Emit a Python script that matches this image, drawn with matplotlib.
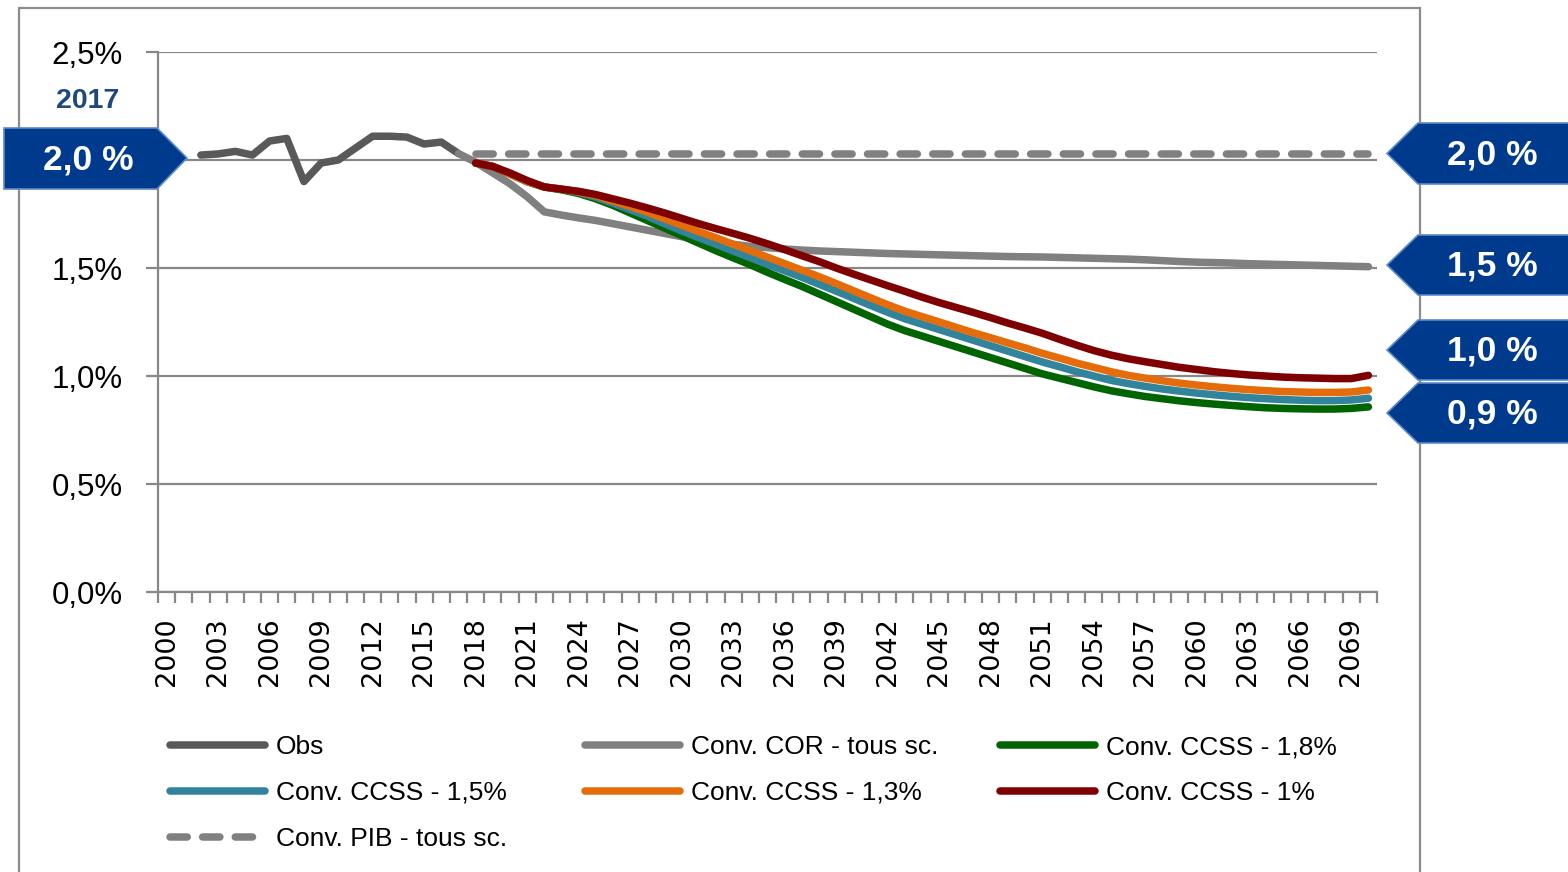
import numpy as np
import matplotlib.pyplot as plt
from matplotlib.patches import Polygon, Rectangle

plt.rcParams['font.family'] = ['Liberation Sans', 'DejaVu Sans']

# data
years = list(range(2000, 2071))

obs_years = list(range(2002, 2018))
obs = [2.023, 2.028, 2.040, 2.023, 2.088, 2.100, 1.900, 1.986,
       2.000, 2.055, 2.110, 2.110, 2.106, 2.074, 2.083, 2.030]

cor_years = list(range(2017, 2071))
cor = [2.03, 1.99, 1.94, 1.89, 1.83, 1.76, 1.745, 1.732, 1.72, 1.705,
       1.69, 1.675, 1.66, 1.645, 1.632, 1.62, 1.61, 1.60, 1.594, 1.588,
       1.583, 1.579, 1.576, 1.573, 1.57, 1.567, 1.565, 1.563, 1.561, 1.559,
       1.557, 1.555, 1.553, 1.552, 1.551, 1.549, 1.547, 1.545, 1.543, 1.541,
       1.538, 1.534, 1.53, 1.527, 1.525, 1.523, 1.52, 1.518, 1.516, 1.514,
       1.512, 1.51, 1.508, 1.506]

proj_years = list(range(2018, 2071))
ccss_18 = [1.986, 1.97, 1.935, 1.90, 1.875, 1.862, 1.845, 1.82, 1.79, 1.755,
           1.72, 1.685, 1.65, 1.615, 1.58, 1.547, 1.515, 1.48, 1.447, 1.415,
           1.38, 1.345, 1.31, 1.275, 1.24, 1.21, 1.185, 1.16, 1.135, 1.11,
           1.085, 1.06, 1.035, 1.01, 0.99, 0.97, 0.95, 0.932, 0.918, 0.905,
           0.895, 0.885, 0.877, 0.87, 0.864, 0.858, 0.853, 0.85, 0.848, 0.847,
           0.847, 0.85, 0.857]
ccss_15 = [1.986, 1.97, 1.935, 1.90, 1.875, 1.865, 1.85, 1.828, 1.80, 1.77,
           1.74, 1.705, 1.672, 1.64, 1.61, 1.578, 1.548, 1.517, 1.487, 1.457,
           1.425, 1.393, 1.36, 1.327, 1.295, 1.265, 1.24, 1.215, 1.19, 1.165,
           1.14, 1.115, 1.09, 1.065, 1.043, 1.02, 1.0, 0.98, 0.965, 0.952,
           0.94, 0.93, 0.921, 0.913, 0.906, 0.90, 0.895, 0.891, 0.888, 0.886,
           0.886, 0.889, 0.897]
ccss_13 = [1.986, 1.97, 1.935, 1.90, 1.875, 1.865, 1.853, 1.835, 1.81, 1.785,
           1.758, 1.728, 1.698, 1.668, 1.64, 1.61, 1.58, 1.55, 1.52, 1.49,
           1.46, 1.428, 1.395, 1.362, 1.33, 1.30, 1.275, 1.25, 1.225, 1.20,
           1.177, 1.153, 1.13, 1.105, 1.083, 1.06, 1.04, 1.02, 1.003, 0.99,
           0.978, 0.967, 0.958, 0.95, 0.943, 0.937, 0.932, 0.928, 0.926, 0.924,
           0.924, 0.926, 0.935]
ccss_10 = [1.986, 1.97, 1.94, 1.905, 1.875, 1.865, 1.855, 1.84, 1.82, 1.80,
           1.778, 1.755, 1.73, 1.705, 1.682, 1.66, 1.637, 1.612, 1.585, 1.557,
           1.53, 1.50, 1.472, 1.445, 1.418, 1.392, 1.365, 1.34, 1.317, 1.294,
           1.27, 1.245, 1.222, 1.198, 1.17, 1.143, 1.118, 1.097, 1.08, 1.066,
           1.053, 1.04, 1.03, 1.02, 1.012, 1.005, 1.0, 0.995, 0.992, 0.99,
           0.988, 0.988, 1.003]
pib = [2.03, 2.03, 2.03, 2.03, 2.03, 2.03, 2.03, 2.03, 2.03, 2.03,
       2.03, 2.03, 2.03, 2.03, 2.03, 2.03, 2.03, 2.03, 2.03, 2.03,
       2.03, 2.03, 2.03, 2.03, 2.03, 2.03, 2.03, 2.03, 2.03, 2.03,
       2.03, 2.03, 2.03, 2.03, 2.03, 2.03, 2.03, 2.03, 2.03, 2.03,
       2.03, 2.03, 2.03, 2.03, 2.03, 2.03, 2.03, 2.03, 2.03, 2.03,
       2.03, 2.03, 2.03]

y_ticks = [0.0, 0.5, 1.0, 1.5, 2.0, 2.5]
# the 2,0% label sits under the blue tag in the original, so it is left blank
y_ticklabels = ['0,0%', '0,5%', '1,0%', '1,5%', '', '2,5%']

right_tags = ['2,0 %', '1,5 %', '1,0 %', '0,9 %']
left_tag = '2,0 %'
left_year = '2017'

# fig, ax
W, H = 1568, 872
fig = plt.figure(figsize=(W / 100, H / 100), dpi=100)


def fp(x, y):
    # pixel -> figure fraction
    return (x / W, 1 - y / H)


ax = fig.add_axes([158 / W, 1 - 592 / H, 1219 / W, 540 / H])

def idx(yrs):
    return [y - 2000 for y in yrs]

grey_axis = '#888888'
lw = 5.4
kw = dict(solid_capstyle='round', solid_joinstyle='round')
l_obs, = ax.plot(idx(obs_years), obs, color='#595959', lw=lw, label='Obs', **kw)
l_cor, = ax.plot(idx(cor_years), cor, color='#808080', lw=lw, label='Conv. COR - tous sc.', **kw)
l_18, = ax.plot(idx(proj_years), ccss_18, color='#006400', lw=lw, label='Conv. CCSS - 1,8%', **kw)
l_15, = ax.plot(idx(proj_years), ccss_15, color='#31849B', lw=lw, label='Conv. CCSS - 1,5%', **kw)
l_13, = ax.plot(idx(proj_years), ccss_13, color='#E46C0A', lw=lw, label='Conv. CCSS - 1,3%', **kw)
l_10, = ax.plot(idx(proj_years), ccss_10, color='#7F0000', lw=lw, label='Conv. CCSS - 1%', **kw)
l_pib, = ax.plot(idx(proj_years), pib, color='#808080', lw=lw, label='Conv. PIB - tous sc.',
                 dash_capstyle='round')
l_pib.set_dashes([2.3, 2.05])

# beauty
ax.set_xlim(-0.5, 70.5)
ax.set_ylim(0, 2.5)
ax.set_yticks(y_ticks)
ax.set_yticklabels(y_ticklabels)
ax.yaxis.grid(True, color=grey_axis, lw=1.6)
ax.set_axisbelow(True)
ax.tick_params(axis='y', length=8.6, width=1.6, color=grey_axis, pad=17, labelsize=22.5)

ax.set_xticks(np.arange(-0.5, 71, 1))
ax.set_xticklabels([])
ax.set_xticks(idx(years[::3]), minor=True)
ax.set_xticklabels([str(y) for y in years[::3]], minor=True, rotation=90,
                   family='DejaVu Sans', fontsize=19.5)
ax.tick_params(axis='x', which='major', length=8, width=1.6, color=grey_axis)
ax.tick_params(axis='x', which='minor', length=0, pad=18)

for s in ['top', 'right']:
    ax.spines[s].set_visible(False)
for s in ['left', 'bottom']:
    ax.spines[s].set_color(grey_axis)
    ax.spines[s].set_linewidth(1.6)

# legend, three columns
cols = [([l_obs, l_15, l_pib], 170), ([l_cor, l_13], 585), ([l_18, l_10], 1000)]
for hs, x0 in cols:
    leg = fig.legend(handles=hs, labels=[h.get_label() for h in hs], loc='upper left',
                     bbox_to_anchor=fp(x0, 735), frameon=False, borderpad=0,
                     borderaxespad=0, handlelength=3.6, handletextpad=0.4,
                     labelspacing=0.83, fontsize=19)

# outer frame
fig.patches.append(Rectangle(fp(19, 890), 1401 / W, 882 / H, transform=fig.transFigure,
                             fill=False, edgecolor='#8c8c8c', lw=1.6, zorder=0))

# tags
blue = '#003A8C'
edge = '#5B8BC9'
pts = [fp(4, 128), fp(157, 128), fp(187, 158), fp(157, 189), fp(4, 189)]
fig.patches.append(Polygon(pts, closed=True, transform=fig.transFigure,
                           facecolor=blue, edgecolor=edge, lw=1.2, zorder=5))
fig.text(*fp(88, 160), left_tag, color='white', fontsize=25.5, fontweight='bold',
         ha='center', va='center', zorder=6)
fig.text(*fp(88, 101), left_year, color='#1F497D', fontsize=20.5, fontweight='bold',
         ha='center', va='center')

for lab, (t, b) in zip(right_tags, [(123, 184), (235, 295), (320, 380), (383, 443)]):
    c = (t + b) / 2
    pts = [fp(1387, c), fp(1418, t), fp(1580, t), fp(1580, b), fp(1418, b)]
    fig.patches.append(Polygon(pts, closed=True, transform=fig.transFigure,
                               facecolor=blue, edgecolor=edge, lw=1.2, zorder=5))
    fig.text(*fp(1492, c + 1), lab, color='white', fontsize=25.5, fontweight='bold',
             ha='center', va='center', zorder=6)

fig.savefig('out.png', dpi=100)
